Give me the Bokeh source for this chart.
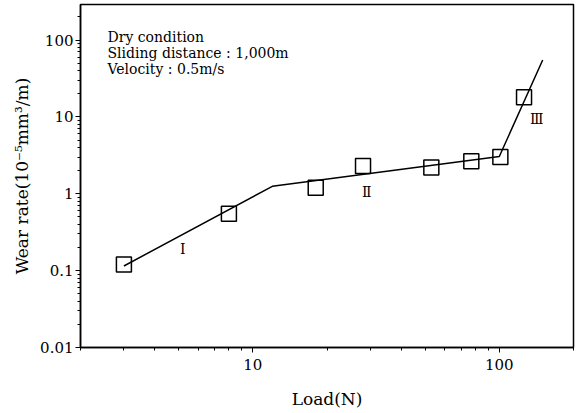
from bokeh.plotting import figure
from bokeh.models import ColumnDataSource, FixedTicker, Label
from bokeh.core.properties import value
from bokeh.embed import file_html
from bokeh.resources import INLINE

# data
load_pts = [3, 8, 18, 28, 53, 77, 101, 126]
wear_pts = [0.12, 0.55, 1.2, 2.3, 2.2, 2.65, 3.0, 18.0]
fit_load = [3, 12, 100, 150]
fit_wear = [0.115, 1.25, 3.05, 55]
regime_labels = ["Ⅰ", "Ⅱ", "Ⅲ"]
regime_x = [5.2, 29, 142]
regime_y = [0.19, 1.05, 9.5]
y_ticks = [0.01, 0.1, 1, 10, 100]
x_ticks = [10, 100]
notes = ["Dry condition", "Sliding distance : 1,000m", "Velocity : 0.5m/s"]

FONT = "DejaVu Serif"
W, H = 577, 413
BL, BR, BT, BB = 80, 4, 4, 66

p = figure(width=W, height=H, x_axis_type="log", y_axis_type="log",
           x_range=(2, 200), y_range=(0.01, 290),
           output_backend="svg", toolbar_location=None,
           min_border_left=BL, min_border_right=BR, min_border_top=BT, min_border_bottom=BB)
p.background_fill_color = "white"
p.border_fill_color = "white"
p.outline_line_color = "black"
p.outline_line_width = 1.5
p.xgrid.visible = False
p.ygrid.visible = False

for ax in (p.xaxis[0], p.yaxis[0]):
    ax.axis_line_color = "black"
    ax.axis_line_width = 1.5
    ax.major_tick_line_color = "black"
    ax.minor_tick_line_color = "black"
    ax.major_tick_out = 5
    ax.major_tick_in = 0
    ax.minor_tick_out = 3
    ax.minor_tick_in = 0
    ax.major_label_text_font = FONT
    ax.major_label_text_font_size = "15px"
    ax.major_label_text_color = "black"
    ax.axis_label_text_font = FONT
    ax.axis_label_text_font_style = "normal"
    ax.axis_label_text_font_size = "17px"
    ax.axis_label_text_color = "black"

p.xaxis.ticker = FixedTicker(ticks=x_ticks, minor_ticks=[2, 3, 4, 5, 6, 7, 8, 9, 20, 30, 40, 50, 60, 70, 80, 90, 200])
p.yaxis.ticker = FixedTicker(ticks=y_ticks, minor_ticks=[
    m * d for d in [0.01, 0.1, 1, 10, 100] for m in range(2, 10)])
p.xaxis.major_label_overrides = {10: "10", 100: "100"}
p.yaxis.major_label_overrides = {0.01: "0.01", 0.1: "0.1", 1: "1", 10: "10", 100: "100"}
p.xaxis.axis_label = "Load(N)"
p.yaxis.axis_label = "Wear rate(10⁻⁵mm³/m)"
p.xaxis.major_label_standoff = 6
p.xaxis.axis_label_standoff = 16
p.yaxis.major_label_standoff = 2
p.yaxis.axis_label_standoff = 5

p.line(fit_load, fit_wear, line_color="black", line_width=1.5)
p.scatter(load_pts, wear_pts, marker="square", size=15, fill_color=None,
          line_color="black", line_width=1.5)

src = ColumnDataSource(dict(x=regime_x, y=regime_y, t=regime_labels))
p.text(x="x", y="y", text="t", source=src, text_font=value(FONT),
       text_font_size="14px", text_align="center", text_baseline="middle",
       text_color="black")

frame_h = H - BT - BB
for i, t in enumerate(notes):
    p.add_layout(Label(x=27, y=frame_h - 32 - 16 * i, x_units="screen", y_units="screen",
                       text=t, text_font=FONT, text_font_size="14px",
                       text_color="black", text_baseline="middle"))

open("out.html", "w").write(file_html(p, INLINE))
